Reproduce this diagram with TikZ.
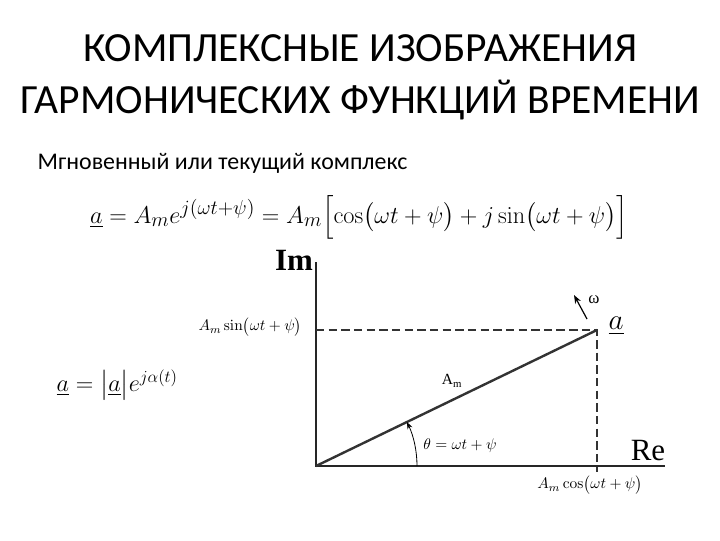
\documentclass[tikz,border=0pt]{standalone}
\usepackage{amsmath}
\usepackage[no-math]{fontspec}
\setmainfont{Carlito}
\newfontfamily\timesfont{Liberation Serif}
\usetikzlibrary{arrows.meta,calc}

\begin{document}
\begin{tikzpicture}[x=0.025cm, y=0.025cm]
		%%%%% START %%%%%
		\useasboundingbox (0, 0) rectangle (720, 540);
		
		\node (title1) at (360, 492) {\fontsize{29.5}{32}\selectfont КОМПЛЕКСНЫЕ ИЗОБРАЖЕНИЯ};
		\node (title2) at (360, 440) {\fontsize{29.5}{32}\selectfont ГАРМОНИЧЕСКИХ ФУНКЦИЙ ВРЕМЕНИ};
		\node[anchor=west, inner sep=1pt] (sub) at (36, 377) {\fontsize{17}{20}\selectfont Мгновенный или текущий комплекс};
		
		\node[inner sep=1pt] (eq1) at (359, 323) {\fontsize{19}{22}\selectfont $\underline{a} = A_m e^{j(\omega t+\psi)} = A_m\Bigl[\cos\bigl(\omega t+\psi\bigr) + j\sin\bigl(\omega t+\psi\bigr)\Bigr]$};
		\node[anchor=west, inner sep=1pt] (eq2) at (55, 155) {\fontsize{17}{20}\selectfont $\underline{a} = \bigl|\underline{a}\bigr| e^{j\alpha(t)}$};
		
		\coordinate (O) at (316, 74);
		\coordinate (imtop) at (316, 278);
		\coordinate (reend) at (665, 74);
		\coordinate (a) at (597, 210);
		\coordinate (ay) at (316, 210);
		\coordinate (ax) at (597, 68);
		
		\draw[line width=0.4mm, color=black!85] (imtop) -- (O) -- (reend);
		\draw[line width=0.3mm, color=black!80, dash pattern=on 6pt off 3pt] (ay) -- (a) -- (ax);
		\draw[line width=0.6mm, color=black!80] (O) -- (a);
		
		\draw[line width=0.2mm, -{Stealth[length=5pt]}] ($(O)+(101,0)$) arc (0:25.8:101);
		\draw[line width=0.3mm, -{Stealth[length=6pt]}] (587, 221) -- (574, 245);
		
		\node (im) at (294, 280) {\timesfont\fontsize{22}{24}\selectfont\textbf{Im}};
		\node[anchor=base, inner sep=0pt] (re) at (648, 80) {\timesfont\fontsize{22}{24}\selectfont Re};
		\node (alab) at (616, 214) {\fontsize{20}{22}\selectfont $\underline{a}$};
		\node (w) at (594, 240) {\timesfont\fontsize{12}{14}\selectfont ω};
		\node[anchor=east] (sinlab) at (307, 213) {\fontsize{11}{13}\selectfont $A_m\sin\bigl(\omega t+\psi\bigr)$};
		\node (amlab) at (452, 159) {\timesfont\fontsize{11}{13}\selectfont A\textsubscript{m}};
		\node (thlab) at (460, 94) {\fontsize{11}{13}\selectfont $\theta = \omega t+\psi$};
		\node (coslab) at (590, 55) {\fontsize{11}{13}\selectfont $A_m\cos\bigl(\omega t+\psi\bigr)$};
		
		%%%%% END %%%%%
	\end{tikzpicture}
\end{document}
